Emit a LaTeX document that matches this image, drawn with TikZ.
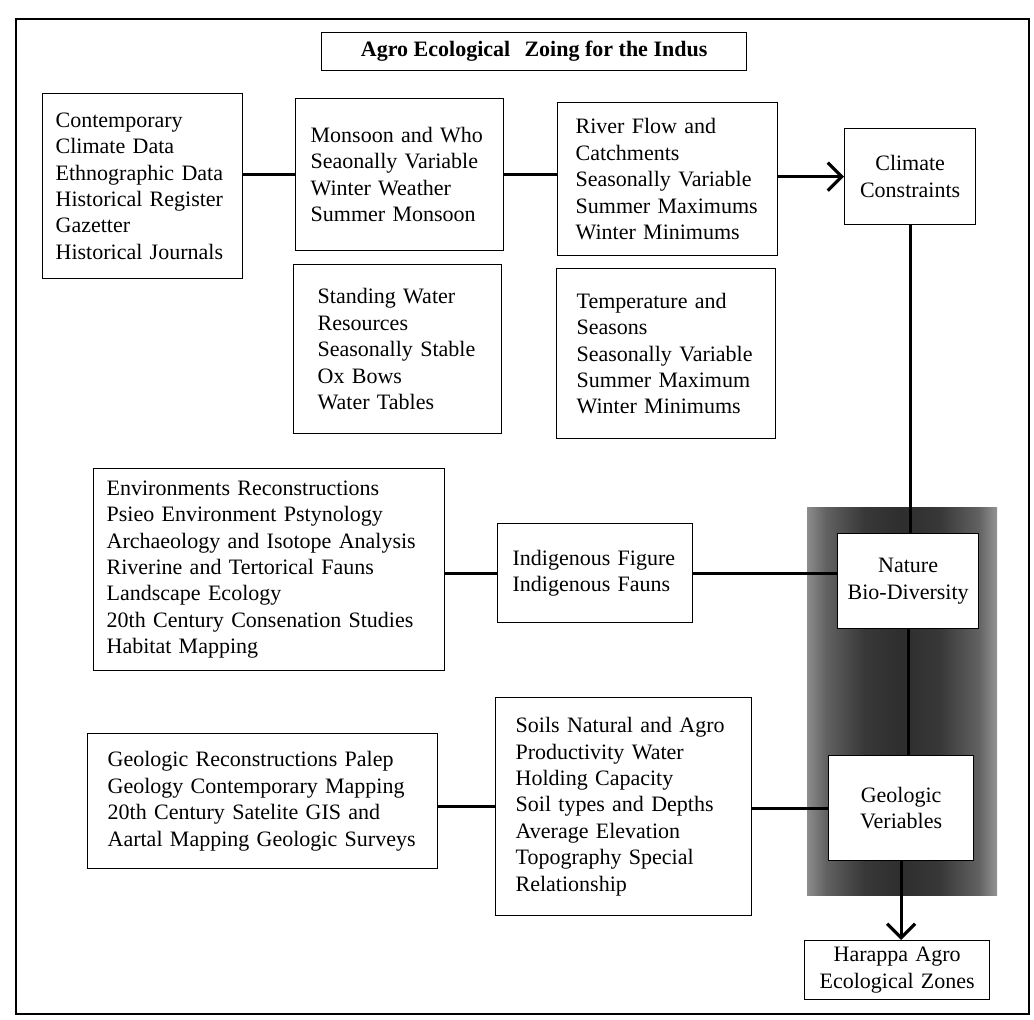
\documentclass[tikz,border=0pt]{standalone}
\usepackage{fontspec}
\setmainfont{Liberation Serif}
\usetikzlibrary{arrows.meta}
\pgfdeclarehorizontalshading{panelshade}{100bp}{color(0bp)=(black!45); color(25bp)=(black!45); color(30bp)=(black!62); color(40bp)=(black!78); color(50bp)=(black!82); color(60bp)=(black!78); color(70bp)=(black!62); color(75bp)=(black!42); color(100bp)=(black!42)}
\tikzset{
  bx/.style={draw, line width=1.3pt, fill=white, anchor=north west, align=left,
    inner ysep=2pt, font=\fontsize{22}{26.4}\selectfont},
  cbx/.style={bx, align=center},
  link/.style={line width=3.2pt},
  arr/.style={link, -{Straight Barb[length=14pt, width=28pt]}},
  frame/.style={line width=1.6pt}
}
\begin{document}
\begin{tikzpicture}[x=1pt, y=-1pt]
\useasboundingbox (0,0) rectangle (1034,1020);
\draw[frame] (16,19) rectangle (1029,1014);

% title
\node[bx, align=center, inner sep=0pt, minimum width=425pt, minimum height=38pt,
  font=\bfseries\fontsize{22}{26}\selectfont] (T) at (321,32)
  {Agro Ecological\hspace{0.4em} Zoing for the Indus};

% shaded panel
\node[anchor=north west, inner sep=0pt, minimum width=190pt, minimum height=388pt,
  shading=panelshade] (P) at (807,507) {};

% top row
\node[bx, text width=174pt, inner xsep=13pt, minimum height=185pt] (A) at (42,93)
  {Contemporary\\Climate Data\\Ethnographic Data\\Historical Register\\Gazetter\\Historical Journals};
\node[bx, text width=178pt, inner xsep=15pt, minimum height=152pt] (B) at (295,98)
  {Monsoon and Who\\Seaonally Variable\\Winter Weather\\Summer Monsoon};
\node[bx, text width=184pt, inner xsep=18pt, minimum height=153pt] (C) at (557,102)
  {River Flow and\\Catchments\\Seasonally Variable\\Summer Maximums\\Winter Minimums};
\node[cbx, text width=111pt, inner xsep=10pt, minimum height=96pt] (D) at (844,128)
  {Climate\\Constraints};

% second row
\node[bx, text width=160pt, inner xsep=24pt, minimum height=169pt] (E) at (293,264)
  {Standing Water\\Resources\\Seasonally Stable\\Ox Bows\\Water Tables};
\node[bx, text width=179pt, inner xsep=20pt, minimum height=170pt] (F) at (556,268)
  {Temperature and\\Seasons\\Seasonally Variable\\Summer Maximum\\Winter Minimums};

% third row
\node[bx, text width=325pt, inner xsep=13pt, minimum height=202pt] (G) at (93,468)
  {Environments Reconstructions\\Psieo Environment Pstynology\\Archaeology and Isotope Analysis\\Riverine and Tertorical Fauns\\Landscape Ecology\\20th Century Consenation Studies\\Habitat Mapping};
\node[bx, text width=165pt, inner xsep=15pt, minimum height=99pt] (H) at (497,523)
  {Indigenous Figure\\Indigenous Fauns};
\node[cbx, text width=121pt, inner xsep=10pt, minimum height=95pt] (N) at (837,533)
  {Nature\\Bio-Diversity};

% fourth row
\node[bx, text width=310pt, inner xsep=20pt, minimum height=135pt] (I) at (87,733)
  {Geologic Reconstructions Palep\\Geology Contemporary Mapping\\20th Century Satelite GIS and\\Aartal Mapping Geologic Surveys};
\node[bx, text width=216pt, inner xsep=20pt, minimum height=218pt] (J) at (495,697)
  {Soils Natural and Agro\\Productivity Water\\Holding Capacity\\Soil types and Depths\\Average Elevation\\Topography Special\\Relationship};
\node[cbx, text width=125pt, inner xsep=10pt, minimum height=105pt] (GV) at (828,755)
  {Geologic\\Veriables};
\node[cbx, text width=165pt, inner xsep=10pt, inner ysep=1pt, minimum height=59pt] (Z) at (804,940)
  {Harappa Agro\\Ecological Zones};

% connectors
\draw[link] (A.east |- B.west) -- (B.west);
\draw[link] (B.east) -- (B.east -| C.west);
\draw[arr] (C.east |- D.west) -- (D.west);
\draw[link] (D.south) -- (D.south |- N.north);
\draw[link] (G.east |- H.west) -- (H.west);
\draw[link] (H.east) -- (H.east -| N.west);
\draw[link] (N.south) -- (N.south |- GV.north);
\draw[link] (I.east |- J.west) -- (J.west);
\draw[link] (J.east |- GV.west) -- (GV.west);
\draw[arr] (GV.south) -- (GV.south |- Z.north);
\end{tikzpicture}
\end{document}
